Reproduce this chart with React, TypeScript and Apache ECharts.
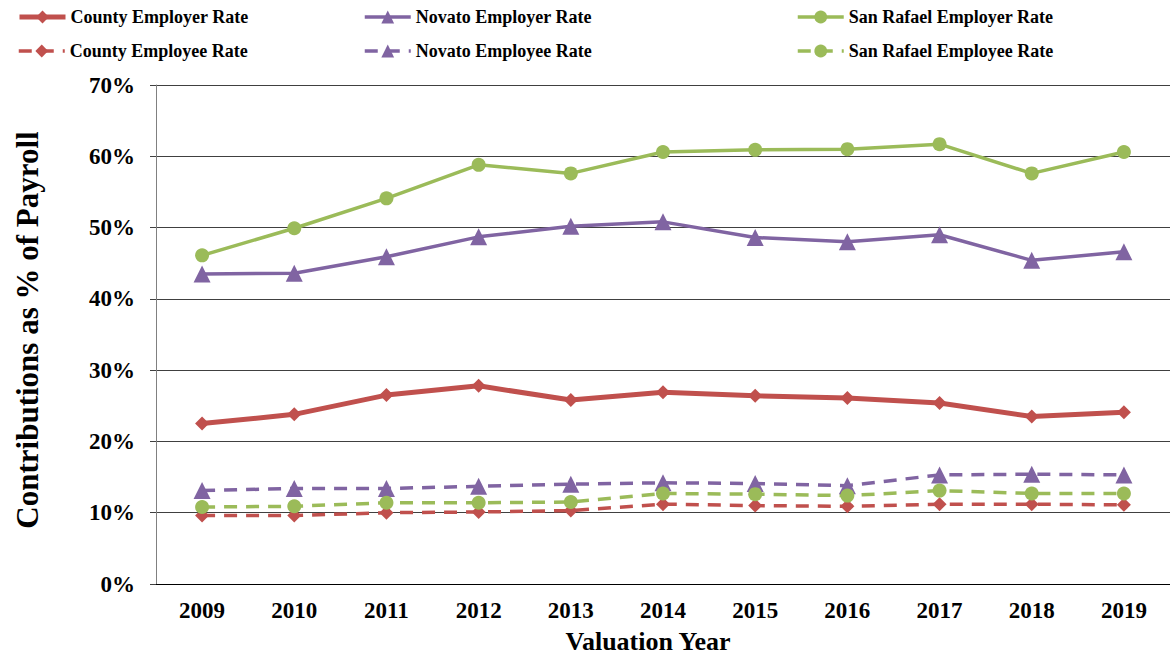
import React, { useEffect, useRef } from "react";
import * as echarts from "echarts";

const years = ["2009", "2010", "2011", "2012", "2013", "2014", "2015", "2016", "2017", "2018", "2019"];
const countyEmployer = [22.5, 23.8, 26.5, 27.8, 25.8, 26.9, 26.4, 26.1, 25.4, 23.5, 24.1];
const novatoEmployer = [43.5, 43.6, 45.9, 48.7, 50.2, 50.8, 48.6, 48.0, 49.0, 45.4, 46.6];
const sanRafaelEmployer = [46.1, 49.9, 54.1, 58.8, 57.6, 60.6, 60.9, 61.0, 61.7, 57.6, 60.6];
const countyEmployee = [9.6, 9.6, 10.0, 10.1, 10.3, 11.2, 11.0, 10.9, 11.2, 11.2, 11.1];
const novatoEmployee = [13.1, 13.4, 13.4, 13.7, 14.0, 14.2, 14.1, 13.8, 15.3, 15.4, 15.3];
const sanRafaelEmployee = [10.8, 10.9, 11.4, 11.4, 11.5, 12.7, 12.6, 12.4, 13.1, 12.7, 12.7];
const yTicks = { min: 0, max: 70, interval: 10 };

const RED = "#C0504D";
const PURPLE = "#8064A2";
const GREEN = "#9BBB59";
const FONT = "'Liberation Serif', 'Times New Roman', serif";

export default function App() {
  const ref = useRef<HTMLDivElement>(null);
  useEffect(() => {
    if (!ref.current) return;
    const chart = echarts.init(ref.current, null, { renderer: "svg" });
    const legendText = { fontFamily: FONT, fontWeight: "bold" as const, fontSize: 18, color: "#000" };
    const mkLegend = (name: string, left: number, top: number) => ({
      show: true,
      data: [name],
      left,
      top,
      padding: 0,
      itemGap: 0,
      itemWidth: 46,
      itemHeight: 16,
      textStyle: legendText,
      selectedMode: false,
      lineStyle: { width: "inherit" },
    });
    const line = (
      name: string,
      data: number[],
      color: string,
      symbol: string,
      symbolSize: number,
      width: number,
      dashed: boolean
    ) => ({
      name,
      type: "line",
      data,
      symbol,
      symbolSize,
      showAllSymbol: true,
      itemStyle: { color },
      lineStyle: { color, width, type: dashed ? [13, 9] : "solid" },
      z: dashed ? 2 : 3,
    });
    chart.setOption({
      animation: false,
      backgroundColor: "#fff",
      legend: [
        mkLegend("County Employer Rate", 17, 8),
        mkLegend("Novato Employer Rate", 363, 8),
        mkLegend("San Rafael Employer Rate", 796, 8),
        mkLegend("County Employee Rate", 17, 42),
        mkLegend("Novato Employee Rate", 363, 42),
        mkLegend("San Rafael Employee Rate", 796, 42),
      ],
      grid: { left: 156, right: 0, top: 85, bottom: 73, containLabel: false },
      xAxis: {
        type: "category",
        data: years,
        boundaryGap: true,
        axisLine: { lineStyle: { color: "#000", width: 1 } },
        axisTick: { show: false },
        axisLabel: { fontFamily: FONT, fontWeight: "bold", fontSize: 23, color: "#000", margin: 15 },
      },
      yAxis: {
        type: "value",
        min: yTicks.min,
        max: yTicks.max,
        interval: yTicks.interval,
        axisLine: { show: true, lineStyle: { color: "#808080", width: 1 } },
        axisTick: { show: true, length: 6, lineStyle: { color: "#404040" } },
        splitLine: { show: true, lineStyle: { color: "#404040", width: 1 } },
        axisLabel: {
          fontFamily: FONT,
          fontWeight: "bold",
          fontSize: 23,
          color: "#000",
          margin: 21,
          formatter: "{value}%",
        },
      },
      graphic: [
        {
          type: "text",
          x: 27,
          y: 330,
          rotation: Math.PI / 2,
          style: {
            text: "Contributions as % of Payroll",
            font: `bold 31px ${FONT}`,
            fill: "#000",
            textAlign: "center",
            textVerticalAlign: "middle",
          },
        },
        {
          type: "text",
          x: 648,
          y: 641,
          style: {
            text: "Valuation Year",
            font: `bold 26px ${FONT}`,
            fill: "#000",
            textAlign: "center",
            textVerticalAlign: "middle",
          },
        },
      ],
      series: [
        line("County Employer Rate", countyEmployer, RED, "diamond", 14, 5, false),
        line("Novato Employer Rate", novatoEmployer, PURPLE, "triangle", 17, 3.5, false),
        line("San Rafael Employer Rate", sanRafaelEmployer, GREEN, "circle", 14, 3.5, false),
        line("County Employee Rate", countyEmployee, RED, "diamond", 14, 3.5, true),
        line("Novato Employee Rate", novatoEmployee, PURPLE, "triangle", 17, 3.5, true),
        line("San Rafael Employee Rate", sanRafaelEmployee, GREEN, "circle", 14, 3.5, true),
      ],
    });
    return () => chart.dispose();
  }, []);
  return (
    <div
      ref={ref}
      style={{ position: "fixed", left: 0, top: 0, width: 1170, height: 657, background: "#fff" }}
    />
  );
}
